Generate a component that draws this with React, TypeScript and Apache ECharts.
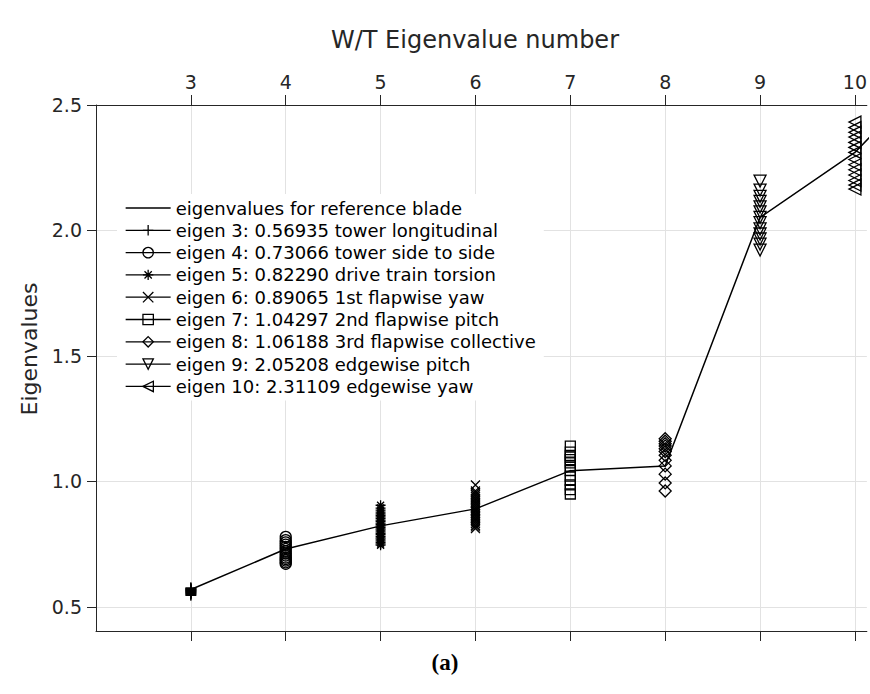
import React, { useEffect, useRef } from 'react';
import * as echarts from 'echarts';

// ---------- data ----------
const eigenNumbers = [3, 4, 5, 6, 7, 8, 9, 10, 11];
const referenceValues = [0.56935, 0.73066, 0.8229, 0.89065, 1.04297, 1.06188, 2.05208, 2.31109, 2.7];
const xTickValues = [3, 4, 5, 6, 7, 8, 9, 10];
const yTickValues = [0.5, 1.0, 1.5, 2.0, 2.5];

const legendNames = [
  'eigenvalues for reference blade',
  'eigen 3: 0.56935 tower longitudinal',
  'eigen 4: 0.73066 tower side to side',
  'eigen 5: 0.82290 drive train torsion',
  'eigen 6: 0.89065 1st flapwise yaw',
  'eigen 7: 1.04297 2nd flapwise pitch',
  'eigen 8: 1.06188 3rd flapwise collective',
  'eigen 9: 2.05208 edgewise pitch',
  'eigen 10: 2.31109 edgewise yaw',
];

const eigen3Values = [0.546, 0.55, 0.553, 0.556, 0.558, 0.561, 0.563, 0.565, 0.567, 0.5694, 0.571, 0.573, 0.576];
const eigen4Values = [0.672, 0.678, 0.685, 0.691, 0.697, 0.705, 0.713, 0.721, 0.7307, 0.739, 0.748, 0.757, 0.766, 0.779];
const eigen5Values = [0.746, 0.751, 0.757, 0.763, 0.77, 0.775, 0.781, 0.788, 0.793, 0.799, 0.806, 0.811, 0.817, 0.8229, 0.829, 0.834, 0.841, 0.846, 0.853, 0.859, 0.865, 0.871, 0.878, 0.886, 0.894, 0.905];
const eigen6Values = [0.812, 0.819, 0.825, 0.832, 0.839, 0.846, 0.852, 0.859, 0.866, 0.872, 0.879, 0.885, 0.8907, 0.897, 0.904, 0.911, 0.918, 0.926, 0.933, 0.941, 0.948, 0.955, 0.962, 0.986];
const eigen7Values = [0.95, 0.967, 0.986, 1.004, 1.021, 1.04297, 1.057, 1.074, 1.087, 1.097, 1.104, 1.117, 1.141];
const eigen8Values = [0.962, 0.994, 1.029, 1.06188, 1.084, 1.104, 1.119, 1.13, 1.141, 1.15, 1.16, 1.17];
const eigen9Values = [1.922, 1.946, 1.966, 1.986, 2.006, 2.031, 2.05208, 2.074, 2.094, 2.116, 2.136, 2.161, 2.197];
const eigen10Values = [2.165, 2.181, 2.199, 2.221, 2.242, 2.262, 2.283, 2.31109, 2.331, 2.351, 2.372, 2.391, 2.41, 2.432];

const clusterValues = [eigen3Values, eigen4Values, eigen5Values, eigen6Values, eigen7Values, eigen8Values, eigen9Values, eigen10Values];

const PLUS = 'path://M5,0 L5,10 M0,5 L10,5';
const CROSS = 'path://M0,0 L10,10 M10,0 L0,10';
const STAR = 'path://M5,0 L5,10 M0,5 L10,5 M1.5,1.5 L8.5,8.5 M8.5,1.5 L1.5,8.5';

const clusterSymbols = [PLUS, 'circle', STAR, CROSS, 'rect', 'diamond', 'triangle', 'triangle'];
const clusterSymbolSizes = [11, 11, 10, 9, 10, 12, 12, 12];
const clusterSymbolRotate = [0, 0, 0, 0, 0, 0, 180, 90];

const FONT = 'DejaVu Sans';
const AXIS_COLOR = '#262626';
const GRID_COLOR = '#e2e2e2';

export default function App() {
  const ref = useRef<HTMLDivElement>(null);

  useEffect(() => {
    if (!ref.current) return;
    const chart = echarts.init(ref.current, undefined, { renderer: 'svg' });

    const clusterSeries = clusterValues.map((vals, i) => ({
      name: legendNames[i + 1],
      type: 'line',
      data: vals.map((v) => [xTickValues[i], v]),
      symbol: clusterSymbols[i],
      symbolSize: clusterSymbolSizes[i],
      symbolRotate: clusterSymbolRotate[i],
      showSymbol: true,
      lineStyle: { color: '#000', width: 1.2, opacity: 0 },
      itemStyle: { color: 'rgba(0,0,0,0)', borderColor: '#000', borderWidth: 1.3, opacity: 1 },
      emphasis: { disabled: true },
      silent: true,
      z: 2,
    }));

    const xAxisMax = 10.126;

    const option: any = {
      animation: false,
      grid: { left: 96, top: 105, bottom: 63, right: 0, containLabel: false },
      xAxis: [
        {
          type: 'value',
          position: 'top',
          min: 2,
          max: xAxisMax,
          interval: 1,
          axisLine: { show: true, lineStyle: { color: AXIS_COLOR, width: 1 } },
          axisTick: { show: true, inside: false, length: 10, customValues: xTickValues, lineStyle: { color: AXIS_COLOR } },
          axisLabel: {
            show: true,
            customValues: xTickValues,
            margin: 14,
            fontFamily: FONT,
            fontSize: 19,
            color: AXIS_COLOR,
          },
          splitLine: { show: true, lineStyle: { color: GRID_COLOR, width: 1 } },
        },
        {
          type: 'value',
          position: 'bottom',
          min: 2,
          max: xAxisMax,
          interval: 1,
          axisLine: { show: true, onZero: false, lineStyle: { color: AXIS_COLOR, width: 1 } },
          axisTick: { show: true, inside: false, length: 10, customValues: xTickValues, lineStyle: { color: AXIS_COLOR } },
          axisLabel: { show: false },
          splitLine: { show: false },
        },
      ],
      yAxis: {
        type: 'value',
        min: 0.404,
        max: 2.5,
        axisLine: { show: true, onZero: false, lineStyle: { color: AXIS_COLOR, width: 1 } },
        axisTick: { show: true, inside: false, length: 9, customValues: yTickValues, lineStyle: { color: AXIS_COLOR } },
        axisLabel: {
          show: true,
          customValues: yTickValues,
          formatter: (v: number) => v.toFixed(1),
          margin: 14,
          fontFamily: FONT,
          fontSize: 19,
          color: AXIS_COLOR,
        },
        splitLine: { show: true, lineStyle: { color: GRID_COLOR, width: 1 } },
      },
      legend: {
        orient: 'vertical',
        left: 117,
        top: 194,
        itemWidth: 45,
        itemHeight: 13,
        itemGap: 4.3,
        padding: [5, 8, 5, 8],
        backgroundColor: '#fff',
        selectedMode: false,
        textStyle: { fontFamily: FONT, fontSize: 18, color: '#000' },
        lineStyle: { color: '#000', width: 1.3, opacity: 1 },
        itemStyle: { color: 'rgba(0,0,0,0)', borderColor: '#000', borderWidth: 1.3, opacity: 1 },
        data: legendNames.map((name, i) =>
          i === 0
            ? { name, itemStyle: { color: 'rgba(0,0,0,0)', borderColor: 'rgba(0,0,0,0)', borderWidth: 0, opacity: 0 } }
            : { name }
        ),
      },
      graphic: [
        {
          type: 'text',
          x: 475,
          y: 40,
          style: { text: 'W/T Eigenvalue number', font: `24px "${FONT}"`, fill: AXIS_COLOR, textAlign: 'center', textVerticalAlign: 'middle' },
        },
        {
          type: 'text',
          x: 29,
          y: 349,
          rotation: Math.PI / 2,
          style: { text: 'Eigenvalues', font: `22px "${FONT}"`, fill: AXIS_COLOR, textAlign: 'center', textVerticalAlign: 'middle' },
        },
        {
          type: 'text',
          x: 445,
          y: 662,
          style: { text: '(a)', font: `bold 23px "Liberation Serif"`, fill: '#000', textAlign: 'center', textVerticalAlign: 'middle' },
        },
      ],
      series: [
        {
          name: legendNames[0],
          type: 'line',
          data: eigenNumbers.map((n, i) => [n, referenceValues[i]]),
          symbol: 'none',
          clip: true,
          lineStyle: { color: '#000', width: 1.5 },
          itemStyle: { color: '#000' },
          emphasis: { disabled: true },
          silent: true,
          z: 3,
        },
        ...clusterSeries,
      ],
    };

    chart.setOption(option);
    return () => chart.dispose();
  }, []);

  return (
    <div
      ref={ref}
      style={{ position: 'fixed', left: 0, top: 0, width: 870, height: 694, overflow: 'hidden', background: '#fff' }}
    />
  );
}
